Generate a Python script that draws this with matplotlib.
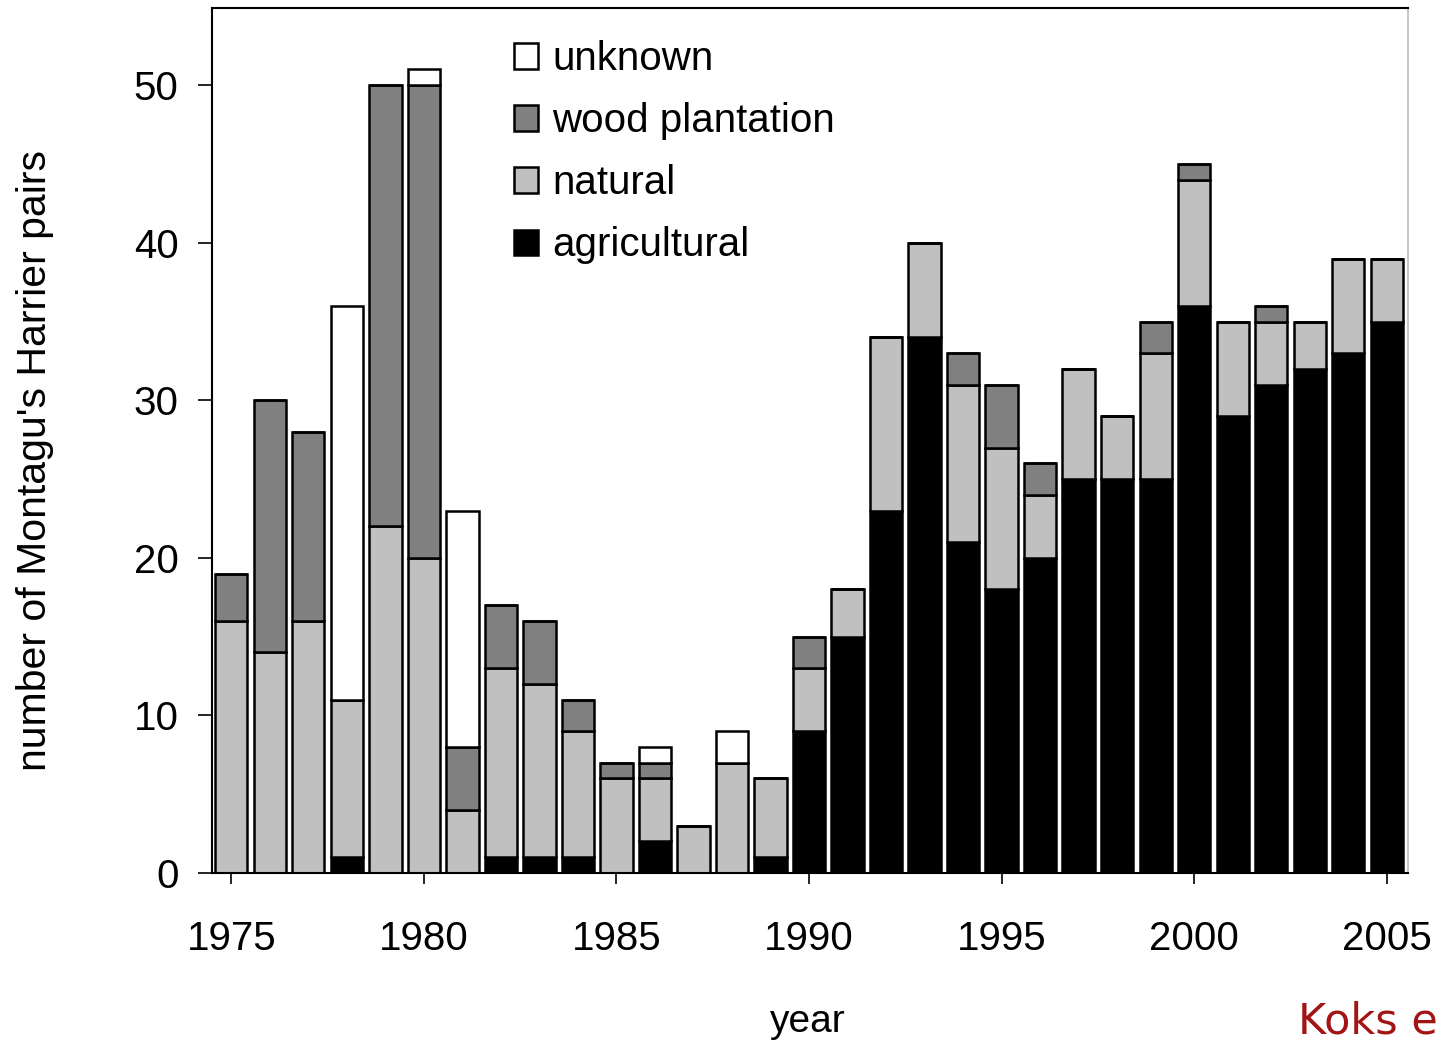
import matplotlib
matplotlib.use("Agg")
import matplotlib.pyplot as plt
import numpy as np
from matplotlib.patches import Patch

plt.rcParams['font.family'] = ['Liberation Sans', 'DejaVu Sans']

years = list(range(1975, 2006))
agricultural = [0, 0, 0, 1, 0, 0, 0, 1, 1, 1, 0, 2, 0, 0, 1,
                9, 15, 23, 34, 21, 18, 20, 25, 25, 25, 36, 29, 31, 32, 33, 35]
natural = [16, 14, 16, 10, 22, 20, 4, 12, 11, 8, 6, 4, 3, 7, 5,
           4, 3, 11, 6, 10, 9, 4, 7, 4, 8, 8, 6, 4, 3, 6, 4]
wood = [3, 16, 12, 0, 28, 30, 4, 4, 4, 2, 1, 1, 0, 0, 0,
        2, 0, 0, 0, 2, 4, 2, 0, 0, 2, 1, 0, 1, 0, 0, 0]
unknown = [0, 0, 0, 25, 0, 1, 15, 0, 0, 0, 0, 1, 0, 2, 0,
           0, 0, 0, 0, 0, 0, 0, 0, 0, 0, 0, 0, 0, 0, 0, 0]

series_names = ['agricultural', 'natural', 'wood plantation', 'unknown']
series_colors = ['#000000', '#c0c0c0', '#808080', '#ffffff']
series_values = [agricultural, natural, wood, unknown]

xtick_vals = [1975, 1980, 1985, 1990, 1995, 2000, 2005]
ytick_vals = [0, 10, 20, 30, 40, 50]

fig = plt.figure(figsize=(14.41, 10.45), dpi=100)
ax = fig.add_axes([212/1441, 1 - 873/1045, (1408-212)/1441, (873-8)/1045])

x = np.array(years)
bottom = np.zeros(len(years))
for name, col, vals in zip(series_names, series_colors, series_values):
    v = np.array(vals, dtype=float)
    ax.bar(x, v, width=0.84, bottom=bottom, color=col, edgecolor='black',
           linewidth=1.8, label=name)
    bottom += v

ax.set_xlim(1974.5, 2005.55)
ax.set_ylim(0, 54.9)
ax.set_xticks(xtick_vals)
ax.set_yticks(ytick_vals)
ax.tick_params(axis='x', direction='out', length=8, width=1.2, pad=26, labelsize=29)
ax.tick_params(axis='y', direction='out', length=10, width=1.2, pad=14, labelsize=29)

for s in ['left', 'bottom', 'top']:
    ax.spines[s].set_linewidth(1.5)
    ax.spines[s].set_color('black')
ax.spines['right'].set_color('#c8c8c8')
ax.spines['right'].set_linewidth(1.5)

fig.text(808/1441, 1 - 1022/1045, 'year', ha='center', va='center', fontsize=28)
fig.text(35/1441, 1 - 460/1045, "number of Montagu's Harrier pairs", rotation=90,
         ha='center', va='center', fontsize=29.5)

handles = [Patch(facecolor=c, edgecolor='black', linewidth=1.8) for c in series_colors]
order = [3, 2, 1, 0]
leg = ax.legend([handles[i] for i in order], [series_names[i] for i in order],
                loc='upper left', bbox_to_anchor=(514/1441, 1 - 40/1045),
                bbox_transform=fig.transFigure, frameon=False, fontsize=29,
                handlelength=0.6, handleheight=0.6, handletextpad=0.35,
                labelspacing=0.6, borderpad=0, borderaxespad=0)

fig.text(1438/1441, 1 - 1022/1045, 'Koks e', color='#a31515', fontsize=31,
         family='DejaVu Sans', ha='right', va='center')

fig.savefig('out.png', dpi=100)
